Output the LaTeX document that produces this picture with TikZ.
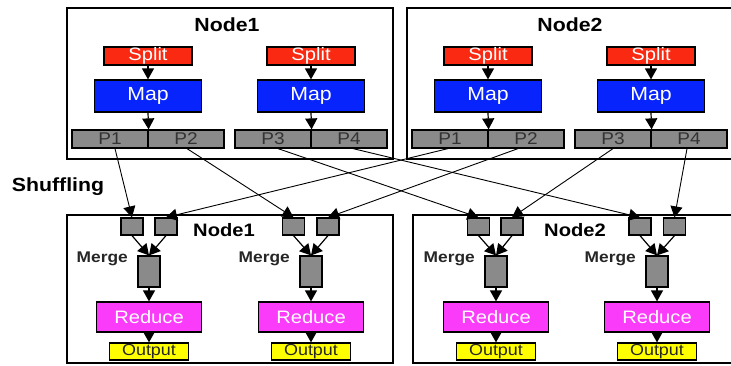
\documentclass[tikz,border=0pt]{standalone}
\usepackage{fontspec}
\setmainfont{Liberation Sans}[FakeStretch=1.12]
\usetikzlibrary{arrows.meta}
\definecolor{splitred}{RGB}{250,42,18}
\definecolor{mapblue}{RGB}{8,36,252}
\definecolor{pgray}{RGB}{138,138,138}
\definecolor{redmag}{RGB}{250,60,250}
\definecolor{outyel}{RGB}{255,255,0}
\begin{document}
\begin{tikzpicture}[x=1pt,y=-1pt,
  outer/.style={draw, line width=1.4pt, inner sep=0pt},
  box/.style={draw, line width=1.2pt, inner sep=0pt, anchor=center},
  splitbox/.style={box, fill=splitred, minimum width=88pt, minimum height=18pt, text=white, font=\fontsize{18}{18}\selectfont},
  mapbox/.style={box, fill=mapblue, minimum width=107pt, minimum height=32pt, text=white, font=\fontsize{19}{19}\selectfont},
  pbox/.style={box, fill=pgray, minimum width=76pt, minimum height=18pt, text=black!80, font=\fontsize{17}{17}\selectfont},
  sbox/.style={box, fill=pgray, minimum width=22pt, minimum height=17pt},
  mbox/.style={box, fill=pgray, minimum width=22pt, minimum height=31pt},
  rbox/.style={box, fill=redmag, minimum width=105pt, minimum height=30pt, text=white, font=\fontsize{18}{18}\selectfont},
  obox/.style={box, fill=outyel, minimum width=79pt, minimum height=17pt, text=black!85, font=\fontsize{16}{16}\selectfont},
  title/.style={inner sep=0pt, font=\bfseries\fontsize{19}{19}\selectfont},
  btitle/.style={inner sep=0pt, font=\bfseries\fontsize{18}{18}\selectfont},
  mlabel/.style={inner sep=0pt, text=black!85, font=\bfseries\fontsize{15.5}{15.5}\selectfont},
  arr/.style={-{Triangle[width=12pt,length=11pt]}, line width=1.2pt},
  sarr/.style={-{Triangle[width=12pt,length=11pt]}, line width=0.9pt}
]
\useasboundingbox (0,0) rectangle (731,365);
\clip (0,0) rectangle (731,365);

% outer node boxes
\node[outer, minimum width=326pt, minimum height=151pt] (top1) at (230,83.5) {};
\node[outer, minimum width=333pt, minimum height=151pt] (top2) at (573.5,83.5) {};
\node[outer, minimum width=326pt, minimum height=148pt] (bot1) at (230,289) {};
\node[outer, minimum width=327pt, minimum height=148pt] (bot2) at (576.5,289) {};

\node[title] (t1) at (227,25) {Node1};
\node[title] (t2) at (570,25) {Node2};
\node[btitle] (b1) at (224,230) {Node1};
\node[btitle] (b2) at (575,230) {Node2};

\node[inner sep=0pt, font=\bfseries\fontsize{19}{19}\selectfont] (shuf) at (58,187) {Shuffling};

% map side
\foreach \c/\n/\a/\b in {148/a/P1/P2, 311/b/P3/P4, 488/c/P1/P2, 651/d/P3/P4}{
  \node[splitbox] (s\n) at (\c,56) {Split};
  \node[mapbox] (m\n) at (\c,96) {Map};
  \node[pbox] (pl\n) at (\c-38,139) {\a};
  \node[pbox] (pr\n) at (\c+38,139) {\b};
  \draw[arr] (s\n.south) -- (m\n.north);
  \draw[arr] (m\n.south) -- (pl\n.north east);
}

% reduce side
\foreach \c/\n/\l/\r in {149/a/132/166, 311/b/293.5/328, 496/c/478.5/512, 657/d/640/674.5}{
  \node[sbox] (bl\n) at (\l,226.5) {};
  \node[sbox] (br\n) at (\r,226.5) {};
  \node[mbox] (g\n) at (\c,271.5) {};
  \node[rbox] (r\n) at (\c,317) {Reduce};
  \node[obox] (o\n) at (\c,351.5) {Output};
  \node[mlabel, anchor=east] (ml\n) at (\c-21,259) {Merge};
  \draw[arr] (bl\n.south) -- (g\n.north);
  \draw[arr] (br\n.south) -- (g\n.north);
  \draw[arr] (g\n.south) -- (r\n.north);
  \draw[arr] (r\n.south) -- (o\n.north);
}

% shuffling
\draw[sarr] ([xshift=5pt]pla.south) -- (bla.north);
\draw[sarr] ([xshift=1pt]pra.south) -- (blb.north);
\draw[sarr] ([xshift=5pt]plb.south) -- (blc.north);
\draw[sarr] ([xshift=4pt]prb.south) -- (bld.north);
\draw[sarr] ([xshift=-2pt]plc.south) -- (bra.north);
\draw[sarr] ([xshift=-8pt]prc.south) -- (brb.north);
\draw[sarr] (pld.south) -- (brc.north);
\draw[sarr] ([xshift=-2pt]prd.south) -- (brd.north);
\end{tikzpicture}
\end{document}
